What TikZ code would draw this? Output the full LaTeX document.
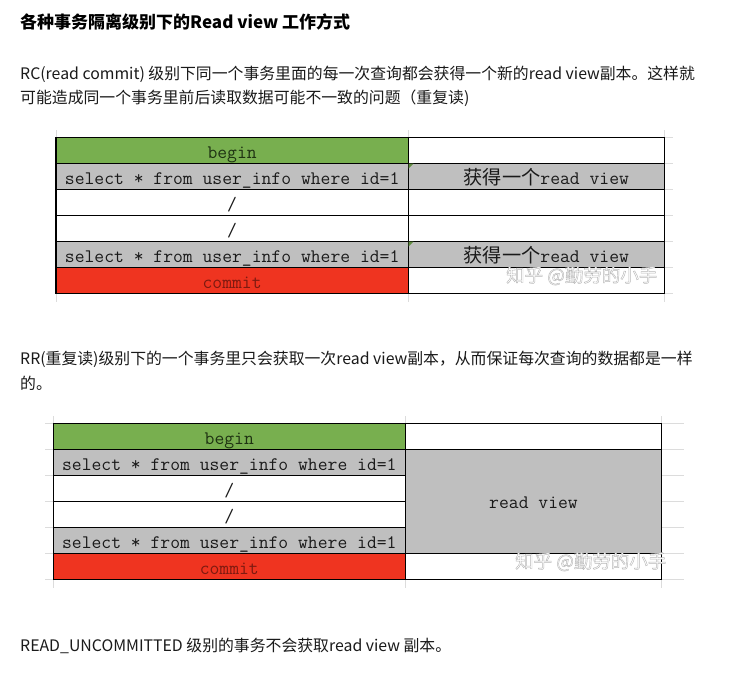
\documentclass[tikz,border=0pt]{standalone}
\usepackage{fontspec}
\setmainfont{Noto Sans CJK SC}
\newfontfamily\cjk{Noto Sans CJK SC}
\usetikzlibrary{calc}

\definecolor{cellgreen}{HTML}{78AF4F}
\definecolor{cellgray}{HTML}{BFBFBF}
\definecolor{cellred}{HTML}{EF3420}
\definecolor{gridline}{HTML}{DCDCDC}
\definecolor{begintext}{HTML}{1E3212}
\definecolor{committext}{HTML}{7E1A10}
\definecolor{bodytext}{HTML}{1A1A1A}

% outlined watermark text: white fill, grey stroke
\newcommand{\wmtext}[1]{{\color{white}\special{pdf:literal direct 0.72 G 2 Tr 0.45 w}#1\special{pdf:literal direct 0 Tr}}}

\tikzset{
  para/.style={anchor=base west, inner sep=0pt, text=bodytext,
    font=\fontsize{15.85}{24}\selectfont},
  heading/.style={anchor=base west, inner sep=0pt, text=black,
    font=\fontsize{17}{20}\selectfont\bfseries},
  cell/.style={draw=black, line width=1.2pt, inner sep=0pt,
    text height=17pt, text depth=0pt, minimum height=26pt,
    font=\fontsize{19.1}{20}\selectfont\ttfamily},
  leftcell/.style={cell, minimum width=352.3pt},
  rightcell/.style={cell, minimum width=256pt},
  greentick/.style={fill=cellgreen!80!black, draw=none},
  faint/.style={draw=gridline, line width=0.8pt},
  watermark/.style={inner sep=0pt, font=\fontsize{18.5}{20}\selectfont\cjk},
}
\newcommand{\cjkcell}[1]{{\cjk\fontsize{19.2}{20}\selectfont #1}}

\begin{document}
\begin{tikzpicture}[x=1pt, y=-1pt]
\useasboundingbox (0,0) rectangle (738,688);
\fill[white] (0,0) rectangle (738,688);

% ---------------- text ----------------
\node[heading] (title) at (20,28) {各种事务隔离级别下的Read view 工作方式};
\node[para] (rc1) at (20,79) {RC(read commit) 级别下同一个事务里面的每一次查询都会获得一个新的read view副本。这样就};
\node[para] (rc2) at (20,103) {可能造成同一个事务里前后读取数据可能不一致的问题（重复读)};
\node[para] (rr1) at (20,364) {RR(重复读)级别下的一个事务里只会获取一次read view副本，从而保证每次查询的数据都是一样};
\node[para] (rr2) at (20,389) {的。};
\node[para] (ru) at (20,651) {READ\_UNCOMMITTED 级别的事务不会获取read view 副本。};

% ---------------- table 1 (RC) ----------------
% spreadsheet grid remnants
\foreach \gx in {56,408.3,664.3} \draw[faint] (\gx,130) -- (\gx,302);
\foreach \gy in {137.3,163.3,189.3,215.3,241.3,267.3,293.3} \draw[faint] (664.3,\gy) -- (673,\gy);

\node[leftcell, fill=cellgreen, text=begintext] (a1) at (232.15,150.3) {begin};
\node[leftcell, fill=cellgray, text=bodytext] (a2) at (232.15,176.3) {select * from user\_info where id=1};
\node[leftcell, fill=white, text=bodytext] (a3) at (232.15,202.3) {/};
\node[leftcell, fill=white, text=bodytext] (a4) at (232.15,228.3) {/};
\node[leftcell, fill=cellgray, text=bodytext] (a5) at (232.15,254.3) {select * from user\_info where id=1};
\node[leftcell, fill=cellred, text=committext] (a6) at (232.15,280.3) {commit};

\node[rightcell, fill=white] (b1) at (536.3,150.3) {};
\node[rightcell, fill=cellgray, text=bodytext] (b2) at (536.3,176.3) {\hspace*{20pt}\cjkcell{获得一个}read view};
\node[rightcell, fill=white] (b3) at (536.3,202.3) {};
\node[rightcell, fill=white] (b4) at (536.3,228.3) {};
\node[rightcell, fill=cellgray, text=bodytext] (b5) at (536.3,254.3) {\hspace*{20pt}\cjkcell{获得一个}read view};
\node[rightcell, fill=white] (b6) at (536.3,280.3) {};

% small corner markers
\fill[greentick] ($(b2.north west)+(0.8,0.8)$) -- ++(5,0) -- ++(-5,5) -- cycle;
\fill[greentick] ($(b5.north west)+(0.8,0.8)$) -- ++(5,0) -- ++(-5,5) -- cycle;

% ---------------- table 2 (RR) ----------------
\foreach \gx in {53.3,405.3,661.7} \draw[faint] (\gx,416) -- (\gx,588);
\foreach \gy in {423.3,449.3,475.3,501.3,527.3,553.3,579.3} {
  \draw[faint] (45,\gy) -- (53.3,\gy);
  \draw[faint] (661.7,\gy) -- (684,\gy);
}

\node[leftcell, fill=cellgreen, text=begintext] (c1) at (229.3,436.3) {begin};
\node[leftcell, fill=cellgray, text=bodytext] (c2) at (229.3,462.3) {select * from user\_info where id=1};
\node[leftcell, fill=white, text=bodytext] (c3) at (229.3,488.3) {/};
\node[leftcell, fill=white, text=bodytext] (c4) at (229.3,514.3) {/};
\node[leftcell, fill=cellgray, text=bodytext] (c5) at (229.3,540.3) {select * from user\_info where id=1};
\node[leftcell, fill=cellred, text=committext] (c6) at (229.3,566.3) {commit};

\node[cell, minimum width=256.4pt, fill=white] (d1) at (533.5,436.3) {};
\node[cell, minimum width=256.4pt, minimum height=104pt, fill=cellgray,
      text height=15pt, text=bodytext] (d2) at (533.5,501.3) {read view};
\node[cell, minimum width=256.4pt, fill=white] (d6) at (533.5,566.3) {};

% ---------------- watermarks ----------------
\node[watermark, anchor=base west] (wm1) at (506,282) {\wmtext{知乎 @勤劳的小手}};
\node[watermark, anchor=base west] (wm2) at (515,568) {\wmtext{知乎 @勤劳的小手}};
\end{tikzpicture}
\end{document}
